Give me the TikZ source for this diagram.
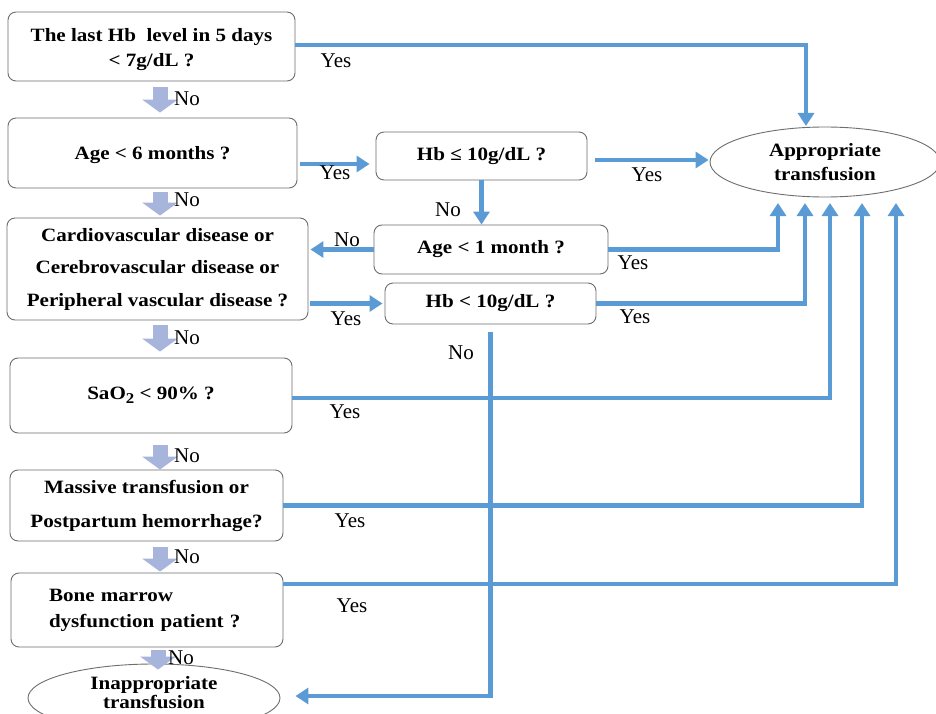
\documentclass[tikz,border=0pt]{standalone}
\usepackage{fontspec}
\setmainfont{Liberation Serif}
\newfontfamily\boxfont{Liberation Serif}[FakeStretch=1.12]
\usetikzlibrary{arrows.meta,shapes.geometric}
\definecolor{lineblue}{HTML}{5B9BD5}
\definecolor{fatblue}{HTML}{A7B5DC}
\definecolor{boxgray}{HTML}{6E6E6E}
\tikzset{
  qbox/.style={draw=boxgray, line width=0.9pt, rounded corners=8pt, fill=white,
    inner sep=0pt, align=center, font=\boxfont\bfseries\fontsize{18.8}{#1}\selectfont},
  qbox/.default=25,
  oval/.style={ellipse, draw=boxgray, line width=0.9pt, fill=white, inner sep=0pt,
    align=center, font=\boxfont\bfseries\fontsize{18.8}{#1}\selectfont},
  oval/.default=24,
  conn/.style={draw=lineblue, line width=4.6pt},
  arr/.style={conn, -{Triangle[width=16pt,length=13pt]}},
  fat/.style={draw=fatblue, line width=15pt, -{Triangle[width=35pt,length=13pt]}},
  lab/.style={font=\fontsize{21}{24}\selectfont, inner sep=0pt}
}
\begin{document}
\begin{tikzpicture}[x=1pt,y=-1pt]
\useasboundingbox (0,0) rectangle (936,714);
\clip (0,0) rectangle (936,714);
\fill[white] (0,0) rectangle (936,714);

% left column
\node[qbox, minimum width=287pt, minimum height=69pt] (b1) at (151.5,46.5)
  {\raisebox{-3pt}[\height][\depth]{\begin{tabular}{@{}c@{}}The last Hb~ level in 5 days\\< 7g/dL ?\end{tabular}}};
\node[qbox, minimum width=289pt, minimum height=70pt] (b2) at (152.5,153)
  {\raisebox{-2pt}[\height][\depth]{Age < 6 months ?}};
\node[qbox=32.5, minimum width=301pt, minimum height=102pt] (b3) at (157.5,269)
  {Cardiovascular disease or\\Cerebrovascular disease or\\Peripheral vascular disease ?};
\node[qbox, minimum width=282pt, minimum height=75pt] (b4) at (151,395.5)
  {SaO\raisebox{-4pt}{\fontsize{15}{15}\selectfont 2} < 90\% ?};
\node[qbox=34, minimum width=273pt, minimum height=71pt] (b5) at (146.5,505.5)
  {Massive transfusion or\\Postpartum hemorrhage?};
\node[qbox=26, minimum width=272pt, minimum height=74pt, align=left, text width=232pt] (b6) at (147,610)
  {\hspace*{18pt}Bone marrow\\\hspace*{18pt}dysfunction patient ?};
\node[oval=22, minimum width=252pt, minimum height=68pt] (inapp) at (154,698)
  {\raisebox{3pt}[\height][\depth]{\begin{tabular}{@{}c@{}}Inappropriate\\[-3pt]transfusion\end{tabular}}};

% middle column
\node[qbox, minimum width=211pt, minimum height=48pt] (hb1) at (481.5,156) {Hb \symbol{"2264} 10g/dL ?};
\node[qbox, minimum width=234pt, minimum height=49pt] (age1) at (491,249.5) {Age < 1 month ?};
\node[qbox, minimum width=211pt, minimum height=41pt] (hb2) at (490.5,303.5) {Hb < 10g/dL ?};

% appropriate
\node[oval, minimum width=230pt, minimum height=70pt] (app) at (825,162)
  {Appropriate\\transfusion};

% arrow-tip coordinates under the ellipse
\coordinate (t0) at (806,126);
\coordinate (t1) at (778,203);
\coordinate (t2) at (805,203);
\coordinate (t3) at (830,203);
\coordinate (t4) at (862,203);
\coordinate (t5) at (896,203);
\coordinate (fx) at (160,0);

% fat "No" arrows
\draw[fat, shorten <=6pt, shorten >=5pt] (fx |- b1.south) -- (fx |- b2.north);
\draw[fat, shorten <=4pt, shorten >=2pt] (fx |- b2.south) -- (fx |- b3.north);
\draw[fat, shorten <=5pt, shorten >=6pt] (fx |- b3.south) -- (fx |- b4.north);
\draw[fat, shorten <=12pt, shorten >=0pt] (fx |- b4.south) -- (fx |- b5.north);
\draw[fat, shorten <=6pt, shorten >=1pt] (fx |- b5.south) -- (fx |- b6.north);
\draw[fat, shorten <=3pt, shorten >=-6pt] ([xshift=-2pt]fx |- b6.south) -- ([xshift=-2pt]fx |- inapp.north);

% blue connectors
\draw[arr] ([yshift=1.5pt]b1.east) -| (t0);
\draw[arr, shorten <=3pt, shorten >=6pt] ([yshift=-11pt]b2.east) -- ([yshift=-11pt]b2.east -| hb1.west);
\draw[arr, shorten <=8pt, shorten >=1pt] ([yshift=-4pt]hb1.east) -- ([yshift=-4pt]hb1.east -| app.west);
\draw[arr] (hb1.south) -- (hb1.south |- age1.north);
\draw[arr, shorten >=2pt] (age1.west) -- (age1.west -| b3.east);
\draw[arr, shorten <=2pt, shorten >=2pt] (b3.east |- hb2.west) -- (hb2.west);
\draw[arr] (age1.east) -| (t1);
\draw[arr] (hb2.east) -| (t2);
\draw[arr] ([yshift=-2.5pt]b4.east) -| (t3);
\draw[arr] (b5.east) -| (t4);
\draw[arr] ([yshift=26pt]b6.east) -| (t5);
\draw[arr, shorten >=15pt] ([yshift=-8pt]hb2.south) |- ([yshift=2pt]inapp.east);

% labels
\node[lab] (y1) at (336,61) {Yes};
\node[lab] (y2) at (335,173) {Yes};
\node[lab] (y3) at (647,175) {Yes};
\node[lab] (y4) at (633,263) {Yes};
\node[lab] (y5) at (635,317) {Yes};
\node[lab] (y6) at (346,319) {Yes};
\node[lab] (y7) at (345,412) {Yes};
\node[lab] (y8) at (350,521) {Yes};
\node[lab] (y9) at (352,606) {Yes};
\node[lab] (n1) at (187,99) {No};
\node[lab] (n2) at (187,200) {No};
\node[lab] (n3) at (187,338) {No};
\node[lab] (n4) at (187,456) {No};
\node[lab] (n5) at (187,557) {No};
\node[lab] (n6) at (181,658) {No};
\node[lab] (n7) at (448,210) {No};
\node[lab] (n8) at (347,240) {No};
\node[lab] (n9) at (461,353) {No};
\end{tikzpicture}
\end{document}
